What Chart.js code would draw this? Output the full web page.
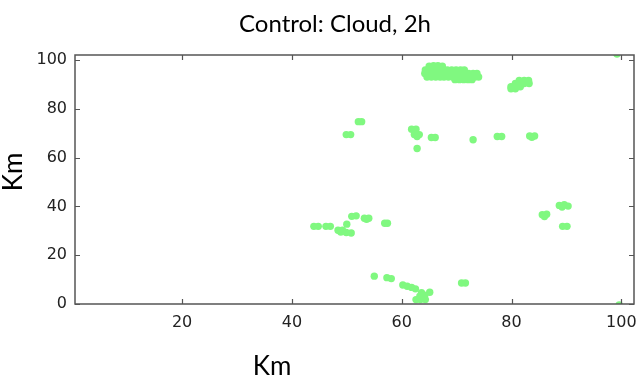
<!DOCTYPE html>
<html>
<head>
<meta charset="utf-8">
<script src="https://cdn.jsdelivr.net/npm/chart.js@4.4.1/dist/chart.umd.min.js"></script>
<style>
  html, body { margin: 0; padding: 0; background: #fff; }
  #wrap { width: 641px; height: 383px; position: relative; }
</style>
</head>
<body>
<div id="wrap"><canvas id="cloudChart"></canvas></div>
<script>
const chartTitle = 'Control: Cloud, 2h';
const axisLabel = 'Km';
const xTicks = [20, 40, 60, 80, 100];
const yTicks = [0, 20, 40, 60, 80, 100];

// cloudy grid cells (km east, km north)
const cloudX = [
  // big cell near the top
  65, 65.8, 66.6, 67.4,
  64.3, 65.1, 65.9, 66.7, 67.5, 68.3, 69.1, 69.9, 70.7, 71.4,
  64.2, 65, 65.8, 66.6, 67.4, 68.2, 69, 69.8, 70.6, 71.4, 72.2, 73, 73.7,
  64.6, 65.4, 66.2, 67, 67.7, 68.5, 69.3, 70.1, 70.9, 71.7, 72.5, 73.3, 74,
  69.7, 70.5, 71.3, 72.1, 72.8,
  // cell to the east
  81.4, 82.3, 83.1,
  80.7, 81.5, 82.3, 83.2,
  79.9, 80.8, 81.6,
  79.9, 80.7,
  // scattered cells around 70 km north
  52.1, 52.7,
  49.9, 50.7,
  61.8, 62.6, 62.3, 63.2, 62.8,
  62.8,
  65.4, 66.1,
  73.0,
  77.4, 78.2,
  83.3, 84.2, 83.7,
  // line of cells around 30 km north
  44.0, 44.8,
  46.2, 47.0,
  50.0,
  48.4, 49.2, 49.9, 50.8, 48.9,
  50.9, 51.7,
  53.2, 54.0, 53.6,
  56.9, 57.4,
  // eastern cells
  88.7, 89.6, 90.3, 89.2,
  85.6, 86.4, 86.0,
  89.3, 90.1,
  // southern cells
  55.0,
  57.3, 58.1,
  60.2, 61.0, 61.8, 62.5,
  62.6, 63.4, 64.3, 63.3, 64.2, 65.1, 63.6,
  70.9, 71.6,
  // edge cells
  99.2, 99.6
];
const cloudY = [
  97.4, 97.6, 97.6, 97.4,
  95.9, 95.9, 95.9, 95.9, 95.9, 95.9, 95.9, 95.9, 95.9, 95.9,
  94.4, 94.4, 94.4, 94.4, 94.4, 94.4, 94.4, 94.4, 94.4, 94.4, 94.4, 94.4, 94.4,
  93.0, 93.0, 93.0, 93.0, 93.0, 93.0, 93.0, 93.0, 93.0, 93.0, 93.0, 93.0, 93.0,
  91.9, 91.9, 91.9, 91.9, 91.9,
  91.6, 91.6, 91.6,
  90.3, 90.3, 90.3, 90.3,
  89.0, 89.0, 89.0,
  88.2, 88.2,
  74.7, 74.7,
  69.4, 69.4,
  71.6, 71.6, 69.4, 69.4, 68.6,
  63.7,
  68.2, 68.2,
  67.3,
  68.6, 68.6,
  68.8, 68.8, 68.3,
  31.8, 31.8,
  31.8, 31.8,
  32.7,
  30.2, 30.2, 29.3, 29.1, 29.5,
  35.9, 36.1,
  35.1, 35.1, 34.7,
  33.1, 33.1,
  40.4, 40.7, 40.1, 39.7,
  36.6, 36.8, 35.8,
  31.8, 31.8,
  11.4,
  10.8, 10.4,
  7.8, 7.3, 6.8, 6.2,
  1.8, 1.8, 1.8, 3.2, 3.6, 4.8, 4.6,
  8.6, 8.6,
  102.4, -0.4
];

const frameColor = '#555';
const tickFont = { family: 'DejaVu Sans', size: 16 };
const labelFamily = 'Lato';

// box round the plot, inward ticks on all four sides, title and axis labels
const framePlugin = {
  id: 'frame',
  afterDatasetsDraw(chart) {
    const { ctx, chartArea: a, scales: { x, y } } = chart;
    ctx.save();
    ctx.strokeStyle = frameColor;
    ctx.lineWidth = 1.5;
    ctx.strokeRect(a.left, a.top, a.right - a.left, a.bottom - a.top);
    ctx.lineWidth = 1.2;
    ctx.beginPath();
    xTicks.forEach(v => {
      const px = Math.round(x.getPixelForValue(v)) + 0.5;
      ctx.moveTo(px, a.bottom); ctx.lineTo(px, a.bottom - 5);
      ctx.moveTo(px, a.top); ctx.lineTo(px, a.top + 5);
    });
    yTicks.forEach(v => {
      const py = Math.round(y.getPixelForValue(v)) + 0.5;
      ctx.moveTo(a.left, py); ctx.lineTo(a.left + 5, py);
      ctx.moveTo(a.right, py); ctx.lineTo(a.right - 5, py);
    });
    ctx.stroke();
    ctx.restore();
  },
  afterDraw(chart) {
    const ctx = chart.ctx;
    ctx.save();
    ctx.fillStyle = '#000';
    ctx.textAlign = 'center';
    ctx.textBaseline = 'middle';
    ctx.font = `24px ${labelFamily}`;
    ctx.fillText(chartTitle, 335, 24);
    ctx.font = `26px ${labelFamily}`;
    ctx.fillText(axisLabel, 272, 367);
    ctx.translate(14, 172);
    ctx.rotate(-Math.PI / 2);
    ctx.fillText(axisLabel, 0, 0);
    ctx.restore();
  }
};

new Chart(document.getElementById('cloudChart'), {
  type: 'scatter',
  data: {
    datasets: [{
      data: cloudX.map((v, i) => ({ x: v, y: cloudY[i] })),
      backgroundColor: '#80f880',
      borderWidth: 0,
      pointRadius: 3.7,
      pointHoverRadius: 3.7,
      clip: 0
    }]
  },
  options: {
    responsive: true,
    maintainAspectRatio: false,
    animation: false,
    events: [],
    layout: { padding: { top: 55, right: 7, bottom: 0, left: 0 } },
    plugins: {
      legend: { display: false },
      title: { display: false },
      tooltip: { enabled: false }
    },
    scales: {
      x: {
        type: 'linear',
        min: 0.5,
        max: 102.3,
        afterBuildTicks: s => { s.ticks = xTicks.map(v => ({ value: v })); },
        afterFit: s => { s.height = 79; s.paddingLeft = 0; s.paddingRight = 0; },
        grid: { display: false, drawTicks: false },
        border: { display: false },
        ticks: { color: '#222', font: tickFont, padding: 9, maxRotation: 0 }
      },
      y: {
        type: 'linear',
        min: 0,
        max: 102,
        afterBuildTicks: s => { s.ticks = yTicks.map(v => ({ value: v })); },
        afterFit: s => { s.width = 75; s.paddingTop = 0; s.paddingBottom = 0; },
        grid: { display: false, drawTicks: false },
        border: { display: false },
        ticks: { color: '#222', font: tickFont, padding: 8 }
      }
    }
  },
  plugins: [framePlugin]
});
</script>
</body>
</html>
